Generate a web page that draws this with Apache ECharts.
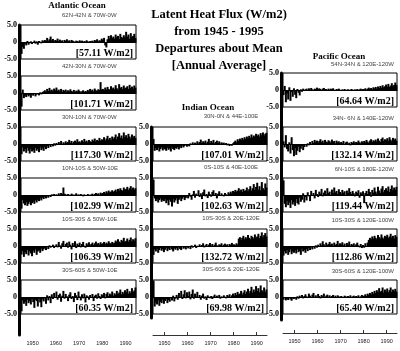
<!DOCTYPE html>
<html><head><meta charset="utf-8">
<script src="https://cdn.jsdelivr.net/npm/echarts@6/dist/echarts.min.js"></script>
<style>html,body{margin:0;padding:0;background:#fff}#c{width:400px;height:351px}</style>
</head><body><div id="c"></div>
<script>
// ---- data (half-year anomalies, W/m2, 1945-1994) ----
const sampleStart = 1945, sampleStep = 0.5;
const xTicks = [1950, 1960, 1970, 1980, 1990];
const yTicks = [-5, 0, 5];
const titleLines = ['Latent Heat Flux (W/m2)', 'from 1945 - 1995', 'Departures about Mean', '[Annual Average]'];
const oceanNames = ['Atlantic Ocean', 'Indian Ocean', 'Pacific Ocean'];

const atlSub = ['62N-42N & 70W-0W', '42N-30N & 70W-0W', '30N-10N & 70W-0W', '10N-10S & 50W-10E', '10S-30S & 50W-10E', '30S-60S & 50W-10E'];
const indSub = ['30N-0N & 44E-100E', '0S-10S & 40E-100E', '10S-30S & 20E-120E', '30S-60S & 20E-120E'];
const pacSub = ['54N-34N & 120E-120W', '34N- 6N & 140E-120W', '6N-10S & 180E-120W', '10S-30S & 120E-100W', '30S-60S & 120E-100W'];
const atlMean = ['[57.11 W/m2]', '[101.71 W/m2]', '[117.30 W/m2]', '[102.99 W/m2]', '[106.39 W/m2]', '[60.35 W/m2]'];
const indMean = ['[107.01 W/m2]', '[102.63 W/m2]', '[132.72 W/m2]', '[69.98 W/m2]'];
const pacMean = ['[64.64 W/m2]', '[132.14 W/m2]', '[119.44 W/m2]', '[112.86 W/m2]', '[65.40 W/m2]'];

const atl1 = [-3.5,-1.5,-2.0,-0.5,-1.0,0.3,-0.8,-0.4,0.2,-0.6, -0.3,0.4,-0.5,0.2,-0.8,0.3,0.1,-0.4,0.5,0.2, 0.6,0.3,1.2,0.4,0.8,1.6,0.5,0.9,0.2,0.6, 0.4,1.0,0.3,0.7,0.2,0.5,-0.2,0.6,0.3,0.8, 0.2,0.5,0.1,0.6,0.4,0.2,-0.1,0.4,0.3,0.1, 0.5,0.2,0.4,-0.2,0.3,0.1,0.5,0.2,-0.1,0.3, 0.2,0.4,0.1,0.6,0.3,0.8,0.2,0.5,0.4,1.0, 0.6,1.2,-1.0,-1.6,0.8,1.8,1.0,2.0,1.2,1.6, 1.0,2.2,1.4,1.8,0.9,2.4,1.5,1.2,2.0,1.4, 3.0,1.6,2.2,1.0,2.6,1.5,1.8,2.4,1.2];
const atl2 = [-4.0,1.0,-1.5,-0.8,-1.2,-0.5,-1.0,-0.6,-1.4,-0.4, -0.8,-0.3,-1.0,-0.5,-0.2,-0.7,0.2,-0.4,0.3,0.5, 0.8,0.4,1.2,0.6,1.5,0.7,1.0,0.5,1.3,0.8, 1.6,0.7,1.0,0.5,1.2,0.4,0.9,0.6,1.0,0.3, 0.8,0.5,1.1,0.6,0.4,0.9,0.3,0.7,0.5,1.0, 0.6,0.2,0.5,0.8,0.3,0.6,0.4,0.9,0.5,1.2, 0.7,1.0,0.5,1.3,0.8,0.6,1.1,0.9,3.2,1.0, 1.2,0.8,1.6,1.0,1.8,1.2,0.9,2.0,1.3,1.6, 1.1,2.3,1.4,1.0,2.6,1.5,1.8,1.2,2.2,1.4, 1.6,2.0,1.2,2.4,1.5,1.9,1.3,2.2,1.6];
const atl3 = [-3.0,-1.0,-2.2,-1.5,-2.6,-1.2,-2.0,-2.8,-1.4,-2.2, -1.8,-2.6,-1.2,-2.0,-1.5,-2.4,-1.0,-1.8,-1.3,-2.0, -0.8,-1.5,-0.6,-1.2,-0.4,-0.9,-0.2,-0.7,0.2,-0.5, 0.3,-0.3,0.6,0.1,0.9,-0.2,0.5,0.2,0.8,0.3, 0.6,1.2,0.4,0.9,0.2,0.7,1.0,0.5,1.4,0.6, 0.8,0.4,1.1,0.6,1.5,0.7,1.0,0.5,1.2,0.8, 0.6,1.3,0.9,1.6,0.7,1.2,0.9,1.8,1.0,1.4, 1.2,2.0,1.0,1.6,2.4,1.3,1.8,1.1,2.2,1.5, 2.0,2.8,1.4,2.2,3.2,1.8,2.5,1.6,3.4,2.0, 2.6,1.8,3.0,2.2,1.6,2.8,2.0,2.4,1.8];
const atl4 = [-4.0,-1.5,-2.5,-3.0,-2.2,-3.2,-2.6,-2.0,-3.0,-2.4, -2.0,-2.6,-1.6,-2.2,-1.4,-1.8,-1.0,-1.6,-0.8,-1.2, -0.6,-1.0,-0.4,-0.8,-0.2,-0.6,0.2,-0.3,0.3,-0.2, 0.2,-0.1,0.5,0.1,0.6,0.3,2.2,0.4,0.2,-0.2, 0.3,0.1,-0.2,0.4,0.2,-0.3,0.1,0.5,-0.1,0.2, -0.2,0.3,0.1,-0.4,0.2,0.0,-0.3,0.3,0.1,-0.2, 0.2,0.4,-0.1,0.3,0.6,0.2,0.5,0.1,0.7,0.4, 0.6,0.9,0.5,1.1,0.7,1.3,0.8,1.0,1.4,0.9, 1.2,1.6,1.0,1.8,1.3,2.0,1.5,1.2,2.2,1.6, 1.8,2.4,1.5,2.0,2.6,1.7,2.2,1.6,2.0];
const atl5 = [-2.5,-1.5,-3.2,-1.8,-2.4,-1.2,-2.8,-1.6,-2.2,-3.0, -1.4,-2.0,-1.0,-2.6,-1.6,-1.2,-2.0,-0.8,-1.5,-1.0, -0.6,-1.2,-0.3,-0.9,0.2,-0.5,-0.2,0.4,-0.6,0.1, 0.5,-0.4,1.2,0.2,-0.8,0.8,1.5,-0.3,0.6,1.0, -0.5,1.3,0.4,-1.0,0.9,0.2,1.4,-0.6,0.7,0.3, 1.0,-0.4,0.6,1.2,0.1,-0.5,0.8,0.4,1.1,0.2, 0.6,1.0,0.3,0.8,1.3,0.5,0.9,0.4,1.1,0.6, 0.8,1.2,0.5,1.0,0.7,1.4,0.9,0.6,1.2,0.8, 1.0,1.6,1.2,2.0,1.3,1.0,1.8,1.4,2.4,1.2, 1.5,2.2,1.3,1.8,2.5,1.4,2.0,1.6,2.3];
const atl6 = [-4.2,-1.0,-2.0,-1.4,-2.6,-0.8,-1.8,-1.2,-2.2,-0.6, -1.5,-3.2,-0.8,-1.2,-2.8,-0.5,-1.6,-3.0,-0.7,-1.3, -0.4,-2.0,0.5,-1.0,0.3,-1.8,0.8,-0.6,1.2,-0.3, 1.6,-0.8,0.6,1.0,-1.4,0.4,1.8,-0.5,0.9,0.2, -1.2,0.7,1.4,-0.6,0.3,-1.5,1.2,0.5,-0.9,1.6, 0.2,-1.0,0.8,-0.4,1.0,-1.6,0.5,0.2,-0.8,0.6, -0.3,0.9,-1.2,0.4,0.7,-0.5,1.1,0.3,-0.6,0.8, 0.5,1.2,-0.4,0.9,1.4,0.3,1.0,0.6,1.6,0.4, 1.1,0.7,1.8,0.9,1.3,2.2,0.8,1.5,1.0,2.0, 1.4,2.4,1.0,1.7,1.2,2.6,1.5,1.9,2.8];

const ind1 = [1.5,-2.0,-1.2,-1.8,-1.0,-2.2,-1.5,-1.0,-1.9,-1.3, -1.6,-2.0,-1.1,-1.7,-1.3,-2.2,-1.0,-1.5,-1.8,-1.2, -1.4,-0.9,-1.6,-0.7,-1.2,-0.5,-1.0,-0.6,-0.3,-0.8, -0.4,-0.7,0.2,-0.3,0.5,-0.2,0.4,0.1,0.8,0.2, 0.6,1.3,0.3,0.8,0.4,1.0,0.2,0.7,1.5,0.3, 0.9,0.4,1.2,0.2,0.6,1.0,0.3,0.8,0.1,0.5, 0.2,0.4,-0.2,0.3,-0.4,0.1,-0.6,-0.3,-0.5,0.2, 0.6,1.0,0.5,1.4,0.9,1.6,1.2,1.8,1.3,2.0, 1.5,2.2,1.7,2.4,1.8,2.8,2.0,2.5,2.2,3.0, 2.4,2.8,2.2,3.2,2.6,3.4,2.5,3.0,3.3];
const ind2 = [4.5,-1.0,-1.8,-1.2,-2.2,-1.5,-1.0,-2.0,-1.4,-1.8, -1.2,-2.4,-1.6,-3.0,-1.4,-2.0,-3.4,-1.2,-2.2,-1.6, -1.0,-2.6,-1.4,-0.8,-1.8,-1.1,-0.6,-1.5,-0.9,-0.4, -1.0,0.6,-0.5,-1.4,0.2,1.2,-0.8,0.4,-0.3,1.4, -0.6,0.5,-1.2,0.8,1.6,-0.4,0.3,-0.9,1.0,0.2, -0.5,0.9,1.4,-0.3,0.6,-1.0,0.4,1.1,-0.2,0.5, 0.1,-0.4,0.6,0.2,-0.3,0.8,0.4,1.0,0.5,1.2, 0.9,1.5,1.0,1.3,2.0,1.1,1.6,0.9,1.8,1.2, 1.4,2.2,1.1,1.7,2.6,1.3,2.0,3.2,1.5,2.4, 3.6,1.6,2.6,1.4,3.8,2.0,1.5,3.4,2.2];
const ind3 = [-2.6,-1.0,-1.6,-0.8,-2.0,-1.2,-0.6,-1.4,-0.9,-1.8, -1.1,-0.5,-1.5,-0.8,-1.2,-0.4,-1.0,-1.6,-0.7,-1.1, -0.6,-1.3,-0.4,-0.9,-1.2,-0.3,-0.8,-0.5,-1.0,-0.2, -0.7,-0.3,-0.9,0.2,-0.5,-0.2,0.4,-0.6,0.1,-0.3, 0.5,-0.2,0.3,0.8,-0.4,0.2,0.6,-0.1,0.4,0.9, 0.1,0.6,-0.3,0.4,1.0,0.2,-0.2,0.5,0.3,0.8, -0.1,0.4,0.7,0.2,0.5,-0.3,0.6,0.3,0.9,0.4, 0.5,0.2,0.8,0.4,2.2,2.6,1.8,2.4,3.0,2.0, 2.6,2.2,3.2,2.4,2.0,3.0,2.6,2.2,3.4,2.5, 2.8,3.6,2.3,3.0,4.0,2.6,3.2,3.8,2.8];
const ind4 = [4.8,-2.8,-1.6,-2.2,-1.0,-2.6,-1.4,-1.8,-0.8,-2.0, -1.2,-0.6,-1.8,-0.9,-1.4,-0.3,-1.0,0.4,-1.3,-0.5, 0.6,-0.8,1.2,-0.3,1.8,-0.6,0.8,2.0,-0.4,1.4, 0.3,1.6,-0.7,0.9,2.2,-0.5,1.0,0.2,1.5,-0.3, 0.6,-0.8,0.4,1.0,-0.5,0.2,-0.9,0.5,0.1,-0.4, 0.3,-0.6,0.2,0.7,-0.3,0.4,-0.2,0.6,-0.5,0.2, -0.3,0.5,0.1,-0.4,0.6,0.2,0.8,-0.2,0.5,1.0, 0.4,1.2,0.6,1.5,0.8,1.0,1.8,0.7,1.3,2.0, 0.9,1.6,2.4,1.1,1.8,3.0,1.3,2.2,1.5,3.2, 1.8,2.6,1.4,3.4,2.0,1.6,2.8,1.5,2.2];

const pac1 = [-1.5,1.2,-3.6,-1.0,-2.8,0.8,-3.2,-0.6,-2.0,0.5, -1.4,-2.4,0.3,-0.8,-1.6,0.2,-0.5,0.4,-0.3,0.2, 0.4,-0.2,0.5,0.1,0.6,0.2,-0.1,0.4,0.3,0.7, 0.2,0.5,0.3,-0.1,0.4,0.6,0.2,0.3,-0.2,0.4, 0.1,0.4,0.3,0.5,0.1,-0.2,0.3,0.2,0.4,0.1, -0.1,0.2,0.0,0.3,-0.2,0.1,0.2,-0.1,0.1,0.3, 0.1,-0.2,0.2,0.0,0.3,-0.1,0.2,0.4,0.1,0.3, 0.2,0.5,0.1,0.4,0.7,0.3,0.6,0.2,0.8,0.5, 0.9,0.4,1.0,0.6,1.2,0.7,1.4,0.8,1.1,1.6, 1.0,1.8,0.9,1.3,2.0,1.1,1.5,2.2,1.4];
const pac2 = [0.8,-1.0,2.6,-1.5,-2.2,0.5,-2.8,2.0,-1.8,-3.6, -1.2,-3.2,-2.0,-0.8,-2.4,-1.4,-0.6,-1.8,-0.9,-0.3, -0.8,0.2,-0.4,0.6,-0.2,0.9,0.3,1.2,0.5,1.0, 0.4,0.9,1.4,0.6,1.0,0.3,1.2,0.7,0.5,1.1, 0.8,0.4,1.3,0.6,0.9,0.2,1.0,0.5,0.8,0.3, 0.6,0.2,0.9,-0.3,0.5,0.7,0.1,0.4,-0.4,0.6, 0.3,0.8,0.2,0.6,0.4,1.0,0.5,0.2,0.8,0.4, 0.9,0.5,1.2,0.7,0.3,1.0,1.4,0.6,1.1,0.8, 1.3,0.7,1.6,1.0,0.6,1.5,1.9,0.9,1.4,1.1, 1.7,1.0,2.0,1.3,0.8,1.8,1.2,1.6,1.0];
const pac3 = [4.3,-2.6,-3.6,-1.8,-3.0,-2.2,-3.8,-1.5,-2.8,-2.0, -3.2,-1.2,-2.4,-2.8,-0.8,-2.0,-1.4,0.5,-2.2,-0.6, -1.6,0.8,-0.4,-1.8,1.2,-0.2,0.6,-1.0,1.5,0.3, -0.6,1.0,0.4,1.8,-0.4,0.7,1.3,0.2,2.0,0.6, 1.0,-0.3,1.6,0.5,2.2,0.8,1.2,0.3,1.7,0.9, 0.4,1.5,0.7,1.1,-0.2,1.3,0.6,2.0,0.9,0.3, 1.2,0.5,-0.4,1.0,0.6,1.4,-0.8,0.8,0.4,1.1, -2.4,0.6,1.2,0.3,1.8,0.9,-0.5,1.5,0.7,2.2, 1.0,0.4,2.4,1.3,0.6,1.9,2.6,0.8,1.5,2.0, 1.2,2.5,0.9,1.8,2.8,1.4,2.2,1.6,2.4];
const pac4 = [-2.8,-1.5,-2.2,-1.2,-2.6,-1.8,-1.0,-2.4,-1.6,-2.0, -1.3,-2.2,-1.0,-1.8,-1.4,-2.6,-0.8,-1.6,-1.2,-2.0, -0.9,-1.5,-0.6,-1.2,-0.4,-1.0,-0.3,-0.8,0.2,-0.5, 0.4,-0.3,0.8,0.2,1.4,0.5,-0.2,1.0,0.3,0.6, 1.2,0.4,0.7,-0.2,1.0,0.3,0.6,1.5,0.2,0.8, 0.5,1.1,0.2,0.7,-0.3,0.9,0.4,1.3,0.1,0.6, 0.3,0.8,-0.2,0.5,1.0,0.2,-0.4,0.6,-0.6,0.3, -0.5,0.8,-0.3,1.0,1.8,2.4,2.0,2.8,2.2,3.0, 2.4,2.0,3.2,2.6,2.2,3.4,2.5,2.1,3.0,2.6, 3.3,2.4,2.8,3.6,2.5,3.0,2.2,3.2,2.7];
const pac5 = [-0.8,-0.3,-1.0,-0.5,-0.9,-0.2,-0.7,-1.1,-0.4,-0.6, -0.3,-0.8,0.2,-0.5,0.4,-0.2,0.6,-0.4,0.3,0.8, 0.2,-0.3,1.0,0.4,-0.2,0.7,1.2,0.1,0.5,-0.3, 0.9,0.3,-0.4,0.6,0.2,1.0,-0.2,0.4,0.7,0.1, 0.5,-0.3,0.3,0.6,0.0,0.4,-0.2,0.5,0.2,-0.1, 0.3,0.1,-0.3,0.4,0.2,-0.2,0.3,0.0,0.5,-0.1, 0.2,0.4,-0.2,0.3,0.1,0.5,-0.3,0.2,0.6,0.3, 0.4,0.8,0.3,1.0,0.6,1.2,0.8,1.5,1.0,1.8, 1.2,2.0,1.4,2.6,1.5,1.8,2.8,1.3,2.2,1.6, 2.5,1.4,2.0,2.8,1.5,2.2,1.7,2.4,1.6];

// ---- layout ----
const PANEL_H = 34;
const columns = [
  {left: 21, width: 115, tops: [25, 76, 127, 178, 229, 280], series: [atl1, atl2, atl3, atl4, atl5, atl6], subs: atlSub, means: atlMean,
   subAlign: 'left', subX: 62, subDy: 10, titleX: 77, titleY: 6, frameBottom: 335, axisY: 335, axisLine: false},
  {left: 153, width: 114, tops: [127, 178, 229, 280], series: [ind1, ind2, ind3, ind4], subs: indSub, means: indMean,
   subAlign: 'center', subX: 231, subDy: 11, titleX: 208, titleY: 108, frameBottom: 318, axisY: 335, axisLine: true},
  {left: 283, width: 114, tops: [73, 127, 178, 229, 280], series: [pac1, pac2, pac3, pac4, pac5], subs: pacSub, means: pacMean,
   subAlign: 'right', subX: 394, subDy: 9, titleX: 339, titleY: 57, frameBottom: 320, axisY: 333, axisLine: true}
];
const X_MIN = 1945, X_MAX = 1994.5;
const serif = '"Liberation Serif", "Times New Roman", serif';
const sans = '"Liberation Sans", Arial, sans-serif';

const grid = [], xAxis = [], yAxis = [], series = [], texts = [];
function txt(x, y, text, font, align, fill) {
  texts.push({type: 'text', x: x, y: y, silent: true,
    style: {text: text, font: font, fill: fill || '#000', align: align, verticalAlign: 'middle', textAlign: align, textVerticalAlign: 'middle'}});
}

titleLines.forEach((t, i) => txt(219, 15 + i * 17, t, 'bold 12.5px ' + serif, 'center'));

columns.forEach((col, ci) => {
  txt(col.titleX, col.titleY, oceanNames[ci], 'bold 9px ' + serif, 'center');
  col.tops.forEach((top, pi) => {
    const gi = grid.length;
    grid.push({left: col.left, top: top, width: col.width, height: PANEL_H, show: true,
      borderColor: '#000', borderWidth: 1, backgroundColor: 'transparent', containLabel: false, outerBoundsMode: 'none'});
    xAxis.push({gridIndex: gi, type: 'value', min: X_MIN, max: X_MAX,
      axisLine: {show: true, onZero: true, lineStyle: {color: '#000', width: 1.2}},
      axisTick: {show: false}, axisLabel: {show: false}, splitLine: {show: false}});
    yAxis.push({gridIndex: gi, type: 'value', min: yTicks[0], max: yTicks[2], interval: 5,
      axisLine: {show: false}, axisTick: {show: false}, splitLine: {show: false},
      axisLabel: {margin: 4, fontSize: 8, fontWeight: 'bold', fontFamily: serif, color: '#000',
        formatter: v => (v === 0 ? '0' : v.toFixed(1))}});
    const vals = col.series[pi];
    series.push({type: 'bar', xAxisIndex: gi, yAxisIndex: gi, barWidth: 2, silent: true,
      itemStyle: {color: '#000'},
      data: vals.map((v, i) => [sampleStart + sampleStep * i + sampleStep / 2, v])});
    txt(col.subX, top - col.subDy, col.subs[pi], '6px ' + sans, col.subAlign, '#444');
    txt(col.left + col.width - 3, top + 28, col.means[pi], 'bold 10px ' + serif, 'right');
  });
  // thick left frame line
  const fi = grid.length;
  grid.push({left: col.left - 1.5, top: col.tops[0], width: 1, height: col.frameBottom - col.tops[0], show: false, containLabel: false, outerBoundsMode: 'none'});
  xAxis.push({gridIndex: fi, type: 'value', min: 0, max: 1, show: false});
  yAxis.push({gridIndex: fi, type: 'value', min: 0, max: 1, axisLine: {show: true, lineStyle: {color: '#000', width: 3}},
    axisTick: {show: false}, axisLabel: {show: false}, splitLine: {show: false}});
  // bottom year axis
  const ai = grid.length;
  grid.push({left: col.left, top: col.axisY - 10, width: col.width, height: 10, show: false, containLabel: false, outerBoundsMode: 'none'});
  xAxis.push({gridIndex: ai, type: 'value', min: X_MIN, max: X_MAX, position: 'bottom',
    axisLine: {show: col.axisLine, onZero: false, lineStyle: {color: '#333', width: 1}},
    axisTick: {show: col.axisLine, inside: true, length: 3, customValues: xTicks, lineStyle: {color: '#333'}},
    axisLabel: {customValues: xTicks, margin: 5, fontSize: 5.5, fontFamily: sans, color: '#222', formatter: v => String(v)},
    splitLine: {show: false}});
  yAxis.push({gridIndex: ai, type: 'value', min: 0, max: 1, show: false});
});

const chart = echarts.init(document.getElementById('c'), null, {renderer: 'canvas'});
chart.setOption({animation: false, backgroundColor: '#fff', grid, xAxis, yAxis, series, graphic: {elements: texts}});
</script></body></html>
